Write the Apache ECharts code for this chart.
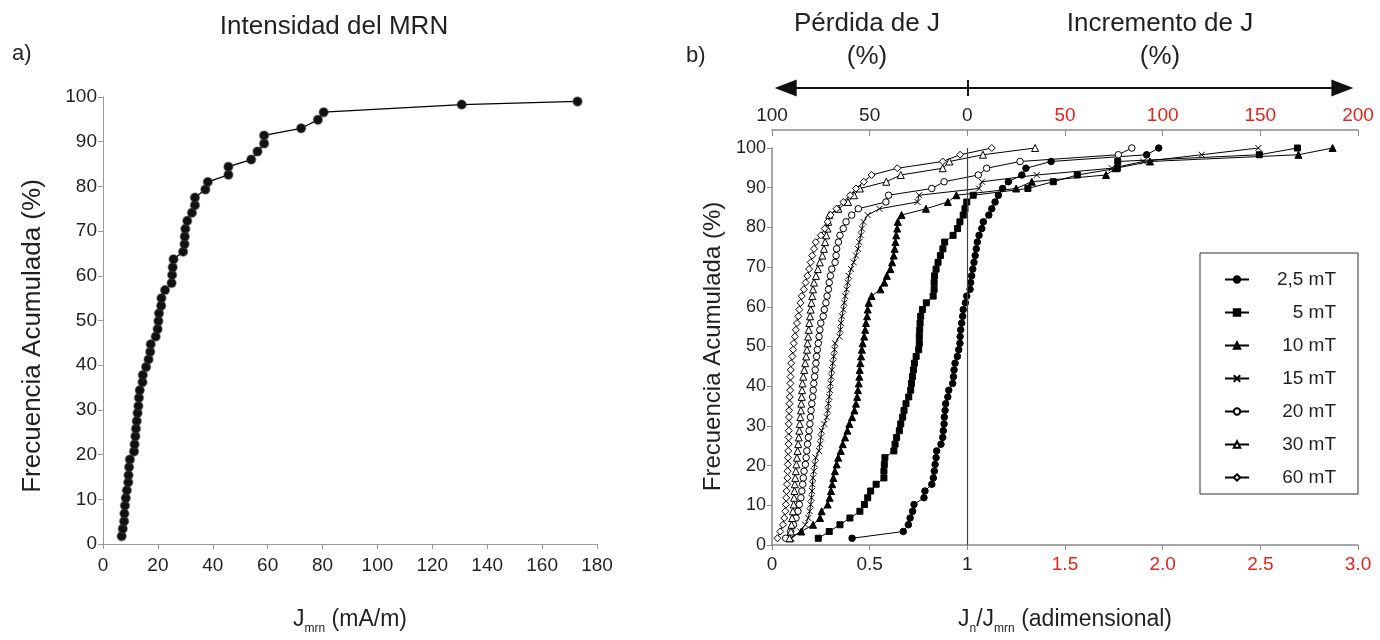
<!DOCTYPE html>
<html>
<head>
<meta charset="utf-8">
<script src="https://cdn.jsdelivr.net/npm/echarts@6/dist/echarts.min.js"></script>
<style>
html,body{margin:0;padding:0;background:#fff;}
#chart{width:1380px;height:640px;}
</style>
</head>
<body>
<div id="chart"></div>
<script>
// ---------- Panel a) : Intensidad del MRN ----------
const jmrnValues = [6.8,7.2,7.7,7.8,8.0,8.3,8.7,9.2,9.3,9.5,9.8,11.3,11.5,11.8,12.0,12.3,12.6,12.9,13.1,13.4,14.4,14.5,15.7,16.6,17.2,17.4,19.2,19.9,20.2,20.4,21.2,21.3,22.6,25.0,25.2,25.4,25.7,29.2,29.7,29.8,30.0,30.7,32.4,33.5,33.5,37.3,38.2,45.7,45.7,54.0,56.3,58.7,58.7,72.2,78.3,80.4,130.7,172.9];
const jmrnFreq = [1.75,3.4,5.1,6.8,8.6,10.3,12.0,13.8,15.4,17.2,18.9,20.7,22.3,24.1,25.8,27.5,29.3,30.9,32.7,34.4,36.2,37.8,39.6,41.3,43.0,44.7,46.4,48.1,49.9,51.6,53.3,55.0,56.8,58.4,60.2,61.9,63.7,65.4,67.1,68.8,70.5,72.3,74.1,75.8,77.5,79.3,81.0,82.6,84.4,86.0,87.8,89.6,91.4,93.0,94.9,96.6,98.3,99.0];

// ---------- Panel b) : Jn/Jmrn ----------
const freqRight = [1.7,3.4,5.1,6.8,8.5,10.2,11.9,13.6,15.3,16.9,18.6,20.3,22.0,23.7,25.4,27.1,28.8,30.5,32.2,33.9,35.6,37.3,39.0,40.7,42.4,44.1,45.8,47.5,49.2,50.8,52.5,54.2,55.9,57.6,59.3,61.0,62.7,64.4,66.1,67.8,69.5,71.2,72.9,74.6,76.3,78.0,79.7,81.4,83.1,84.7,86.4,88.1,89.8,91.5,93.2,94.9,96.6,98.3,100.0];
const ratio2p5 = [0.41,0.672,0.698,0.707,0.72,0.727,0.778,0.783,0.818,0.826,0.831,0.835,0.84,0.843,0.865,0.874,0.877,0.881,0.882,0.886,0.889,0.90,0.905,0.925,0.929,0.932,0.937,0.949,0.956,0.962,0.963,0.966,0.971,0.976,0.979,0.99,0.997,1.014,1.017,1.022,1.028,1.034,1.04,1.046,1.051,1.06,1.074,1.082,1.11,1.125,1.142,1.159,1.18,1.21,1.279,1.30,1.429,1.918,1.98];
const ratio5 = [0.237,0.293,0.348,0.399,0.45,0.473,0.49,0.505,0.533,0.573,0.573,0.575,0.578,0.624,0.63,0.638,0.652,0.659,0.669,0.676,0.686,0.70,0.71,0.714,0.719,0.724,0.729,0.738,0.751,0.754,0.754,0.756,0.758,0.761,0.77,0.79,0.825,0.83,0.83,0.832,0.84,0.85,0.862,0.875,0.884,0.927,0.95,0.962,0.979,0.988,0.997,1.03,1.31,1.44,1.563,1.768,1.77,2.495,2.69];
const ratio10 = [0.09,0.15,0.21,0.246,0.254,0.285,0.295,0.302,0.308,0.314,0.322,0.331,0.339,0.352,0.362,0.374,0.386,0.396,0.41,0.422,0.43,0.436,0.44,0.444,0.447,0.449,0.452,0.456,0.46,0.464,0.472,0.477,0.481,0.487,0.49,0.495,0.51,0.555,0.575,0.588,0.606,0.615,0.623,0.628,0.632,0.636,0.641,0.644,0.663,0.788,0.90,0.944,1.25,1.33,1.71,1.76,1.935,2.695,2.87];
const ratio15 = [0.10,0.145,0.17,0.186,0.193,0.198,0.202,0.205,0.207,0.209,0.214,0.219,0.224,0.24,0.246,0.25,0.254,0.268,0.28,0.286,0.289,0.293,0.297,0.30,0.303,0.306,0.311,0.316,0.32,0.323,0.345,0.35,0.353,0.358,0.365,0.37,0.375,0.382,0.388,0.393,0.405,0.418,0.43,0.44,0.447,0.455,0.46,0.468,0.49,0.55,0.745,0.753,1.06,1.075,1.355,1.74,1.9,2.2,2.49];
const ratio20 = [0.07,0.095,0.11,0.123,0.133,0.14,0.148,0.153,0.157,0.16,0.164,0.171,0.175,0.178,0.182,0.186,0.19,0.194,0.197,0.2,0.204,0.208,0.211,0.214,0.218,0.221,0.225,0.228,0.232,0.237,0.241,0.245,0.25,0.262,0.268,0.276,0.282,0.289,0.293,0.299,0.306,0.323,0.328,0.331,0.34,0.348,0.365,0.379,0.408,0.442,0.583,0.597,0.818,0.881,1.056,1.099,1.27,1.773,1.842];
const ratio30 = [0.09,0.097,0.10,0.103,0.107,0.111,0.113,0.115,0.117,0.119,0.122,0.125,0.128,0.131,0.134,0.137,0.14,0.142,0.145,0.148,0.15,0.152,0.154,0.156,0.16,0.165,0.17,0.175,0.179,0.182,0.185,0.188,0.191,0.195,0.198,0.202,0.206,0.21,0.215,0.225,0.235,0.245,0.258,0.266,0.272,0.278,0.284,0.288,0.293,0.34,0.389,0.42,0.45,0.585,0.659,0.874,0.908,1.08,1.347];
const ratio60 = [0.028,0.042,0.056,0.063,0.068,0.071,0.073,0.075,0.077,0.079,0.08,0.081,0.082,0.083,0.085,0.085,0.086,0.086,0.087,0.088,0.09,0.091,0.093,0.094,0.095,0.096,0.098,0.104,0.108,0.111,0.117,0.122,0.128,0.135,0.14,0.146,0.152,0.163,0.172,0.181,0.19,0.198,0.206,0.215,0.224,0.25,0.27,0.285,0.30,0.33,0.365,0.40,0.43,0.47,0.51,0.642,0.874,0.963,1.125];
const fieldNames = ['2,5 mT','5 mT','10 mT','15 mT','20 mT','30 mT','60 mT'];
const bottomTickLabels = ['0','0.5','1','1.5','2.0','2.5','3.0'];
const topTickLabels = ['100','50','0','50','100','150','200'];

const RED = '#e3241d';
const INK = '#231f20';
const FONT = 'Liberation Sans, Arial, sans-serif';
const NARROW = 'Liberation Sans Narrow, Liberation Sans, Arial, sans-serif';

const ratioSets = [ratio2p5, ratio5, ratio10, ratio15, ratio20, ratio30, ratio60];
const crossPath = 'path://M0,0L10,10M10,0L0,10';
const symbols = ['circle','rect','triangle',crossPath,'circle','triangle','diamond'];
const filled = [true,true,true,true,false,false,false];
const sizes = [6.5,6,7,6,6.5,7,7];

const chart = echarts.init(document.getElementById('chart'), null, {renderer:'canvas'});

function tickLabelIndex(v){ return Math.round(v/0.5); }

const rightSeries = ratioSets.map((arr, si) => ({
  name: fieldNames[si],
  type: 'line',
  xAxisIndex: 1, yAxisIndex: 1,
  data: arr.map((v, i) => [v, freqRight[i]]),
  symbol: symbols[si],
  symbolSize: sizes[si],
  showSymbol: true,
  lineStyle: {color:'#000', width: 1},
  itemStyle: {color: filled[si] ? '#000' : '#fff', borderColor:'#000', borderWidth: 1},
  emphasis: {disabled: true},
  z: 3
}));
rightSeries[0].markLine = {
  silent: true, symbol: 'none', label: {show:false},
  lineStyle: {color:'#444', width:1.2, type:'solid'},
  data: [{xAxis: 1}]
};

const subRich = {
  n:{fontSize:23, fontFamily:FONT, color:INK, lineHeight:28, verticalAlign:'bottom'},
  s:{fontSize:12, fontFamily:FONT, color:INK, lineHeight:28, verticalAlign:'bottom', padding:[0,0,-4,0]}
};

const option = {
  animation: false,
  backgroundColor: '#fff',
  grid: [
    {left:103, top:97, width:494, height:457},
    {left:772, top:148, width:586, height:405},
    {left:772, top:80, width:586, height:16}
  ],
  xAxis: [
    {
      gridIndex:0, type:'value', min:0, max:180, interval:20,
      splitLine:{show:false},
      axisLine:{lineStyle:{color:'#9a9a9a', width:1}},
      axisTick:{show:true, length:5, lineStyle:{color:'#9a9a9a'}},
      axisLabel:{color:INK, fontSize:19, fontFamily:FONT, margin:12},
      name:'{n|J}{s|mrn}{n| (mA/m)}', nameLocation:'middle', nameGap:59,
      nameTextStyle:{rich:subRich}
    },
    {
      gridIndex:1, type:'value', min:0, max:3, interval:0.5, position:'bottom',
      splitLine:{show:false},
      axisLine:{lineStyle:{color:'#8a8a8a', width:1.5}},
      axisTick:{show:true, length:5, lineStyle:{color:'#8a8a8a'}},
      axisLabel:{
        fontSize:19, fontFamily:NARROW, color:INK, margin:10,
        formatter: v => { const s = bottomTickLabels[tickLabelIndex(v)]; return v > 1 ? '{r|'+s+'}' : '{k|'+s+'}'; },
        rich:{ r:{color:RED, fontSize:19, fontFamily:NARROW}, k:{color:INK, fontSize:19, fontFamily:NARROW} }
      },
      name:'{n|J}{s|n}{n|/J}{s|mrn}{n| (adimensional)}', nameLocation:'middle', nameGap:58,
      nameTextStyle:{rich:subRich}
    },
    {
      gridIndex:1, type:'value', min:0, max:3, interval:0.5, position:'top', offset:18,
      splitLine:{show:false},
      axisLine:{lineStyle:{color:'#8a8a8a', width:1.5}},
      axisTick:{show:true, inside:true, length:6, lineStyle:{color:'#8a8a8a'}},
      axisLabel:{
        fontSize:19, fontFamily:NARROW, color:INK, margin:5,
        formatter: v => { const s = topTickLabels[tickLabelIndex(v)]; return v > 1 ? '{r|'+s+'}' : '{k|'+s+'}'; },
        rich:{ r:{color:RED, fontSize:19, fontFamily:NARROW}, k:{color:INK, fontSize:19, fontFamily:NARROW} }
      }
    },
    { gridIndex:2, type:'value', min:0, max:3, show:false }
  ],
  yAxis: [
    {
      gridIndex:0, type:'value', min:0, max:100, interval:10,
      splitLine:{show:false},
      axisLine:{show:true, lineStyle:{color:'#9a9a9a', width:1}},
      axisTick:{show:true, length:5, lineStyle:{color:'#9a9a9a'}},
      axisLabel:{color:INK, fontSize:19, fontFamily:FONT, margin:6}
    },
    {
      gridIndex:1, type:'value', min:0, max:100, interval:10,
      splitLine:{show:false},
      axisLine:{show:true, lineStyle:{color:'#8a8a8a', width:1.5}},
      axisTick:{show:true, length:5, lineStyle:{color:'#8a8a8a'}},
      axisLabel:{color:INK, fontSize:18, fontFamily:NARROW, margin:6},
      name:'Frecuencia Acumulada (%)', nameLocation:'middle', nameGap:47,
      nameTextStyle:{fontSize:24, fontFamily:NARROW, color:INK}
    },
    { gridIndex:2, type:'value', min:0, max:1, show:false }
  ],
  legend: {
    data: fieldNames,
    orient:'vertical',
    left:1200, top:253,
    padding:[17,22,7,24],
    itemGap:14,
    itemWidth:24, itemHeight:8,
    backgroundColor:'#fff',
    borderColor:'#333', borderWidth:1,
    selectedMode:false,
    formatter: name => '{t|' + name + '}',
    textStyle:{ rich:{ t:{width:82, align:'right', fontSize:19, lineHeight:18, fontFamily:NARROW, color:INK} } }
  },
  series: [
    {
      name:'MRN', type:'line', xAxisIndex:0, yAxisIndex:0,
      data: jmrnValues.map((v,i)=>[v, jmrnFreq[i]]),
      symbol:'circle', symbolSize:9,
      lineStyle:{color:'#000', width:1.3},
      itemStyle:{color:'#111', borderColor:'rgba(60,60,60,0.45)', borderWidth:1.5},
      emphasis:{disabled:true}
    },
    ...rightSeries,
    {
      name:'arrow', type:'line', xAxisIndex:3, yAxisIndex:2, data:[],
      markLine:{
        silent:true, label:{show:false}, animation:false,
        lineStyle:{color:'#111', width:2, type:'solid'},
        symbol:['triangle','triangle'], symbolSize:[17,22],
        data:[
          [{coord:[0.07,0.5]},{coord:[2.92,0.5]}],
          [{coord:[1,0], symbol:'none'},{coord:[1,1], symbol:'none'}]
        ]
      }
    }
  ],
  graphic: [
    {type:'text', left:12, top:43, style:{text:'a)', font:'22px '+FONT, fill:INK}},
    {type:'text', x:334, y:27, style:{text:'Intensidad del MRN', font:'26px '+FONT, fill:INK, textAlign:'center', textVerticalAlign:'middle'}},
    {type:'text', x:33, y:336, rotation:Math.PI/2, style:{text:'Frecuencia Acumulada (%)', font:'26px '+FONT, fill:INK, textAlign:'center', textVerticalAlign:'middle'}},
    {type:'text', left:686, top:45, style:{text:'b)', font:'22px '+FONT, fill:INK}},
    {type:'text', x:867, y:24, style:{text:'Pérdida de J', font:'26px '+NARROW, fill:INK, textAlign:'center', textVerticalAlign:'middle'}},
    {type:'text', x:867, y:57, style:{text:'(%)', font:'26px '+NARROW, fill:INK, textAlign:'center', textVerticalAlign:'middle'}},
    {type:'text', x:1160, y:24, style:{text:'Incremento de J', font:'26px '+NARROW, fill:INK, textAlign:'center', textVerticalAlign:'middle'}},
    {type:'text', x:1160, y:57, style:{text:'(%)', font:'26px '+NARROW, fill:INK, textAlign:'center', textVerticalAlign:'middle'}}
  ]
};
chart.setOption(option);
</script>
</body>
</html>
